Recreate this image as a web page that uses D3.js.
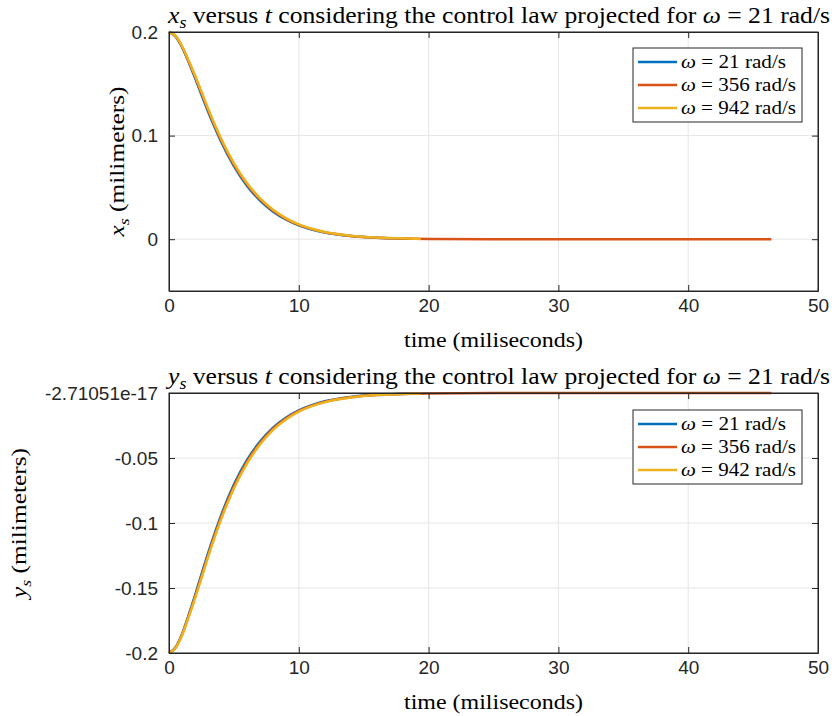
<!DOCTYPE html>
<html>
<head>
<meta charset="utf-8">
<script src="https://cdn.jsdelivr.net/npm/d3@7"></script>
<style>
  body { margin: 0; background: #fff; }
  .tick text { font-family: "Liberation Sans", Arial, sans-serif; font-size: 19px; fill: #262626; }
  .math { font-family: "Liberation Serif", "Times New Roman", serif; fill: #000; }
</style>
</head>
<body>
<div id="chart"></div>
<script>
// figure size
var W = 832, H = 716;

// data (time in ms, position in mm)
const xTicks = [0, 10, 20, 30, 40, 50];

const time21  = [0, 0.5, 1, 1.5, 2, 2.5, 3, 3.5, 4, 5, 6, 7, 8, 9, 10, 11, 12, 14, 16, 18.5];
const time356 = [0, 0.5, 1, 1.5, 2, 2.5, 3, 3.5, 4, 5, 6, 7, 8, 9, 10, 11, 12, 14, 16, 18, 20, 25, 30, 35, 40, 46.4];
const time942 = [0, 0.5, 1, 1.5, 2, 2.5, 3, 3.5, 4, 5, 6, 7, 8, 9, 10, 11, 12, 14, 16, 18, 19.4];

const xs21  = [0.2, 0.1958, 0.1855, 0.1712, 0.1558, 0.1395, 0.1235, 0.1085, 0.0945, 0.0705, 0.0517, 0.0375, 0.0268, 0.019, 0.0133, 0.0093, 0.0064, 0.003, 0.0014, 0.0006];
const xs356 = [0.2, 0.196, 0.186, 0.172, 0.157, 0.141, 0.125, 0.110, 0.096, 0.072, 0.053, 0.0386, 0.0277, 0.0197, 0.0138, 0.0097, 0.0067, 0.0032, 0.0015, 0.0007, 0.0003, 0, 0, 0, 0, 0];
const xs942 = [0.2, 0.1962, 0.1865, 0.1728, 0.1582, 0.1425, 0.1265, 0.1115, 0.0975, 0.0735, 0.0543, 0.0397, 0.0286, 0.0204, 0.0143, 0.0101, 0.007, 0.0034, 0.0016, 0.0008, 0.0003];

const ys21  = [-0.2, -0.1958, -0.1855, -0.1712, -0.1558, -0.1395, -0.1235, -0.1085, -0.0945, -0.0705, -0.0517, -0.0375, -0.0268, -0.019, -0.0133, -0.0093, -0.0064, -0.003, -0.0014, -0.0006];
const ys356 = [-0.2, -0.196, -0.186, -0.172, -0.157, -0.141, -0.125, -0.110, -0.096, -0.072, -0.053, -0.0386, -0.0277, -0.0197, -0.0138, -0.0097, -0.0067, -0.0032, -0.0015, -0.0007, -0.0003, 0, 0, 0, 0, 0];
const ys942 = [-0.2, -0.1962, -0.1865, -0.1728, -0.1582, -0.1425, -0.1265, -0.1115, -0.0975, -0.0735, -0.0543, -0.0397, -0.0286, -0.0204, -0.0143, -0.0101, -0.007, -0.0034, -0.0016, -0.0008, -0.0003];

const omegas = ["21", "356", "942"];
const colors = ["#0072BD", "#D95319", "#EDB120"];

const xsTicks = [0, 0.1, 0.2];
const xsTickLabels = ["0", "0.1", "0.2"];
const ysTicks = [-0.2, -0.15, -0.1, -0.05, -2.71051e-17];
const ysTickLabels = ["-0.2", "-0.15", "-0.1", "-0.05", "-2.71051e-17"];

var svg = d3.select("#chart").append("svg")
    .attr("width", W)
    .attr("height", H);

// write a piece of "latex" text: parts are [text, style]
// len widens the serif font a bit to the width of the computer modern one
function mathText(sel, parts, len) {
  var shifted = false;
  parts.forEach(function (p) {
    var ts = sel.append("tspan").text(p[0]);
    if (p[1] == "i" || p[1] == "sub") ts.attr("font-style", "italic");
    if (p[1] == "sub") {
      ts.attr("font-size", "0.7em").attr("dy", "0.3em");
      shifted = true;
    } else if (shifted) {
      ts.attr("dy", "-0.21em");
      shifted = false;
    }
  });
  if (len) sel.attr("textLength", len).attr("lengthAdjust", "spacingAndGlyphs");
  return sel;
}

function drawPanel(opt) {
  var left = 169, right = 818;
  var x = d3.scaleLinear().domain([0, 50]).range([left, right]);
  var y = d3.scaleLinear().domain(opt.yDomain).range([opt.bottom, opt.top]);

  var g = svg.append("g");

  // grid
  g.selectAll(".gx").data(xTicks).enter().append("line")
      .attr("x1", d => x(d)).attr("x2", d => x(d))
      .attr("y1", opt.top).attr("y2", opt.bottom)
      .attr("stroke", "#e6e6e6").attr("stroke-width", 1);
  g.selectAll(".gy").data(opt.yTicks).enter().append("line")
      .attr("x1", left).attr("x2", right)
      .attr("y1", d => y(d)).attr("y2", d => y(d))
      .attr("stroke", "#e6e6e6").attr("stroke-width", 1);

  // lines
  var line = d3.line()
      .x(d => x(d[0]))
      .y(d => y(d[1]))
      .curve(d3.curveMonotoneX);
  opt.series.forEach(function (s, i) {
    var pts = s.t.map((t, k) => [t, s.v[k]]);
    g.append("path")
        .attr("fill", "none")
        .attr("stroke", colors[i])
        .attr("stroke-width", 2.5)
        .attr("d", line(pts));
  });

  // axes (box on, ticks inward)
  g.append("g")
      .attr("transform", "translate(0," + opt.bottom + ")")
      .call(d3.axisBottom(x).tickValues(xTicks).tickSizeInner(-6).tickSizeOuter(0).tickPadding(8));
  g.append("g")
      .attr("transform", "translate(0," + opt.top + ")")
      .call(d3.axisTop(x).tickValues(xTicks).tickSizeInner(-6).tickSizeOuter(0).tickFormat(""));
  g.append("g")
      .attr("transform", "translate(" + left + ",0)")
      .call(d3.axisLeft(y).tickValues(opt.yTicks).tickSizeInner(-6).tickSizeOuter(0).tickPadding(11)
        .tickFormat((d, i) => opt.yLabels[i]));
  g.append("g")
      .attr("transform", "translate(" + right + ",0)")
      .call(d3.axisRight(y).tickValues(opt.yTicks).tickSizeInner(-6).tickSizeOuter(0).tickFormat(""));
  g.selectAll(".domain, .tick line").attr("stroke", "#262626");

  g.append("rect")
      .attr("x", left).attr("y", opt.top)
      .attr("width", right - left).attr("height", opt.bottom - opt.top)
      .attr("fill", "none").attr("stroke", "#262626").attr("stroke-width", 1);

  // title
  mathText(g.append("text").attr("class", "math")
      .attr("x", 168).attr("y", opt.top - 9)
      .attr("font-size", 23), opt.title, 662);

  // x label
  mathText(g.append("text").attr("class", "math")
      .attr("x", 404).attr("y", opt.bottom + 56)
      .attr("font-size", 22),
      [["time (miliseconds)", "r"]], 179);

  // y label
  mathText(g.append("text").attr("class", "math")
      .attr("transform", "translate(" + opt.ylabX + "," + ((opt.top + opt.bottom) / 2 + 75) + ") rotate(-90)")
      .attr("font-size", 22), opt.ylabel, 150);

  // legend
  var lg = g.append("g").attr("transform", "translate(633," + opt.legTop + ")");
  lg.append("rect").attr("width", 169).attr("height", 74)
      .attr("fill", "#fff").attr("stroke", "#262626").attr("stroke-width", 1);
  omegas.forEach(function (w, i) {
    var yy = 14 + i * 23;
    lg.append("line").attr("x1", 5).attr("x2", 44).attr("y1", yy).attr("y2", yy)
        .attr("stroke", colors[i]).attr("stroke-width", 2.5);
    mathText(lg.append("text").attr("class", "math")
        .attr("x", 48).attr("y", yy + 6).attr("font-size", 19),
        [["ω", "i"], [" = " + w + " rad/s", "r"]], w.length == 2 ? 105 : 115);
  });
}

drawPanel({
  top: 32, bottom: 291,
  yDomain: [-0.05, 0.2], yTicks: xsTicks, yLabels: xsTickLabels,
  series: [{t: time21, v: xs21}, {t: time356, v: xs356}, {t: time942, v: xs942}],
  title: [["x", "i"], ["s", "sub"], [" versus ", "r"], ["t", "i"],
          [" considering the control law projected for ", "r"], ["ω", "i"], [" = 21 rad/s", "r"]],
  ylabel: [["x", "i"], ["s", "sub"], [" (milimeters)", "r"]],
  ylabX: 124, legTop: 48
});

drawPanel({
  top: 393, bottom: 653,
  yDomain: [-0.2, -2.71051e-17], yTicks: ysTicks, yLabels: ysTickLabels,
  series: [{t: time21, v: ys21}, {t: time356, v: ys356}, {t: time942, v: ys942}],
  title: [["y", "i"], ["s", "sub"], [" versus ", "r"], ["t", "i"],
          [" considering the control law projected for ", "r"], ["ω", "i"], [" = 21 rad/s", "r"]],
  ylabel: [["y", "i"], ["s", "sub"], [" (milimeters)", "r"]],
  ylabX: 26, legTop: 410
});
</script>
</body>
</html>
